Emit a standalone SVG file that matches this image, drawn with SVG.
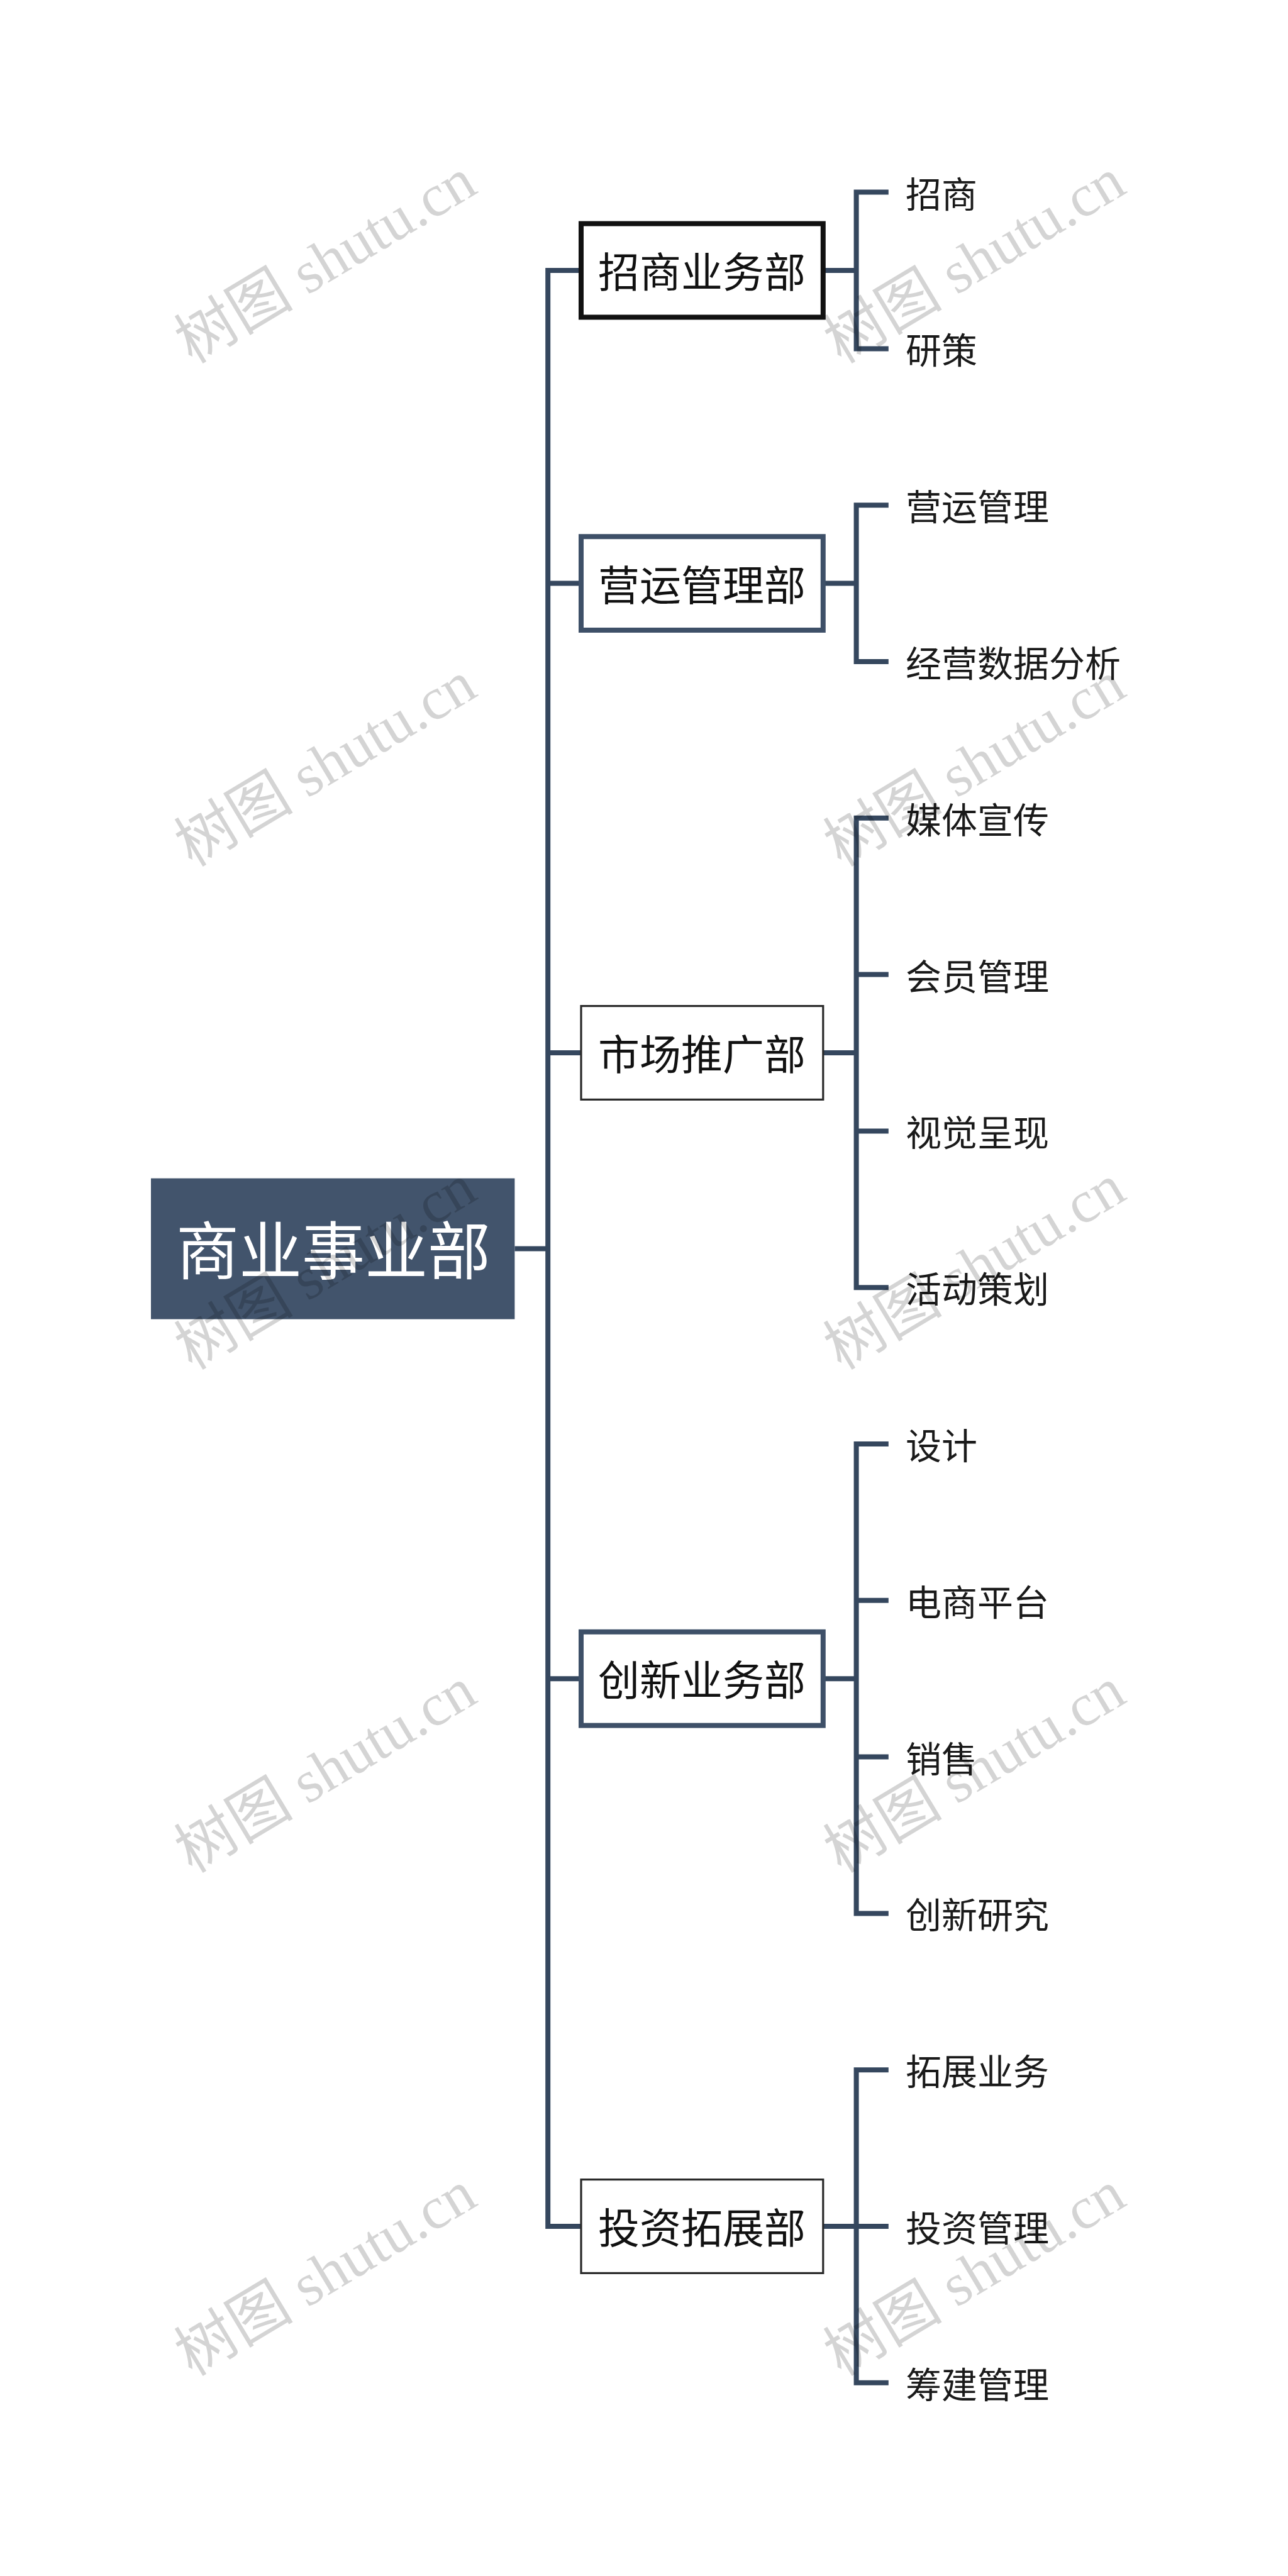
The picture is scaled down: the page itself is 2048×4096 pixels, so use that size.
<svg xmlns="http://www.w3.org/2000/svg" width="2048" height="4096" viewBox="0 0 2048 4096">
<style>
.ln{fill:none;stroke:#35475e;stroke-width:8;stroke-linejoin:miter;stroke-linecap:butt}
.root{fill:#42546c}
.rt{font-family:"Noto Sans CJK SC","Noto Sans",sans-serif;font-size:100px;fill:#ffffff;text-anchor:middle;dominant-baseline:central}
.box{fill:#ffffff}
.b-black{stroke:#111111;stroke-width:8}
.b-slate{stroke:#3e5068;stroke-width:8}
.b-thin{stroke:#2a2a2a;stroke-width:3.2}
.pt{font-family:"Noto Sans CJK SC","Noto Sans",sans-serif;font-size:66px;fill:#111111;text-anchor:middle;dominant-baseline:central}
.ct{font-family:"Noto Sans CJK SC","Noto Sans",sans-serif;font-size:57px;fill:#1a1a1a;dominant-baseline:central}
.wm{font-family:"Liberation Serif","Noto Sans CJK SC",serif;font-size:95px;fill:#000000;fill-opacity:0.17;text-anchor:middle}
</style>
<rect width="2048" height="4096" fill="#ffffff"/>
<g id="connectors">
<path class="ln" d="M818.4 1985.6 H871.2"/>
<path class="ln" d="M924 430 H871.2 V3540 H924"/>
<path class="ln" d="M871.2 927.6 H924 M871.2 1674 H924 M871.2 2669.2 H924"/>
<path class="ln" d="M1308.8 430 H1361.6 M1412.8 305.6 H1361.6 V554.4 H1412.8"/>
<path class="ln" d="M1308.8 927.6 H1361.6 M1412.8 803.2 H1361.6 V1052 H1412.8"/>
<path class="ln" d="M1308.8 1674 H1361.6 M1412.8 1300.8 H1361.6 V2047.2 H1412.8 M1361.6 1549.6 H1412.8 M1361.6 1798.4 H1412.8"/>
<path class="ln" d="M1308.8 2669.2 H1361.6 M1412.8 2296 H1361.6 V3042.4 H1412.8 M1361.6 2544.8 H1412.8 M1361.6 2793.6 H1412.8"/>
<path class="ln" d="M1308.8 3540 H1361.6 M1412.8 3291.2 H1361.6 V3788.8 H1412.8 M1361.6 3540 H1412.8"/>
</g>
<g id="root">
<rect class="root" x="240" y="1873.6" width="578.4" height="224"/>
<text class="rt" x="530" y="1982">商业事业部</text>
</g>
<g id="p1"><rect class="box b-black" x="924" y="355.6" width="384.8" height="148.8"/><text class="pt" x="1116" y="428">招商业务部</text></g>
<g id="p2"><rect class="box b-slate" x="924" y="853.2" width="384.8" height="148.8"/><text class="pt" x="1116" y="925.6">营运管理部</text></g>
<g id="p3"><rect class="box b-thin" x="924" y="1599.6" width="384.8" height="148.8"/><text class="pt" x="1116" y="1672">市场推广部</text></g>
<g id="p4"><rect class="box b-slate" x="924" y="2594.8" width="384.8" height="148.8"/><text class="pt" x="1116" y="2667.2">创新业务部</text></g>
<g id="p5"><rect class="box b-thin" x="924" y="3465.6" width="384.8" height="148.8"/><text class="pt" x="1116" y="3538">投资拓展部</text></g>
<g id="c1"><text class="ct" x="1440" y="304.6">招商</text></g>
<g id="c2"><text class="ct" x="1440" y="553.4">研策</text></g>
<g id="c3"><text class="ct" x="1440" y="802.2">营运管理</text></g>
<g id="c4"><text class="ct" x="1440" y="1051">经营数据分析</text></g>
<g id="c5"><text class="ct" x="1440" y="1299.8">媒体宣传</text></g>
<g id="c6"><text class="ct" x="1440" y="1548.6">会员管理</text></g>
<g id="c7"><text class="ct" x="1440" y="1797.4">视觉呈现</text></g>
<g id="c8"><text class="ct" x="1440" y="2046.2">活动策划</text></g>
<g id="c9"><text class="ct" x="1440" y="2295">设计</text></g>
<g id="c10"><text class="ct" x="1440" y="2543.8">电商平台</text></g>
<g id="c11"><text class="ct" x="1440" y="2792.6">销售</text></g>
<g id="c12"><text class="ct" x="1440" y="3041.4">创新研究</text></g>
<g id="c13"><text class="ct" x="1440" y="3290.2">拓展业务</text></g>
<g id="c14"><text class="ct" x="1440" y="3539">投资管理</text></g>
<g id="c15"><text class="ct" x="1440" y="3787.8">筹建管理</text></g>
<g id="watermarks">
<text class="wm" transform="translate(517,414) rotate(-31)" y="33">树图 shutu.cn</text>
<text class="wm" transform="translate(1549,414) rotate(-31)" y="33">树图 shutu.cn</text>
<text class="wm" transform="translate(517,1214) rotate(-31)" y="33">树图 shutu.cn</text>
<text class="wm" transform="translate(1549,1214) rotate(-31)" y="33">树图 shutu.cn</text>
<text class="wm" transform="translate(517,2014) rotate(-31)" y="33">树图 shutu.cn</text>
<text class="wm" transform="translate(1549,2014) rotate(-31)" y="33">树图 shutu.cn</text>
<text class="wm" transform="translate(517,2814) rotate(-31)" y="33">树图 shutu.cn</text>
<text class="wm" transform="translate(1549,2814) rotate(-31)" y="33">树图 shutu.cn</text>
<text class="wm" transform="translate(517,3614) rotate(-31)" y="33">树图 shutu.cn</text>
<text class="wm" transform="translate(1549,3614) rotate(-31)" y="33">树图 shutu.cn</text>
</g>
</svg>
